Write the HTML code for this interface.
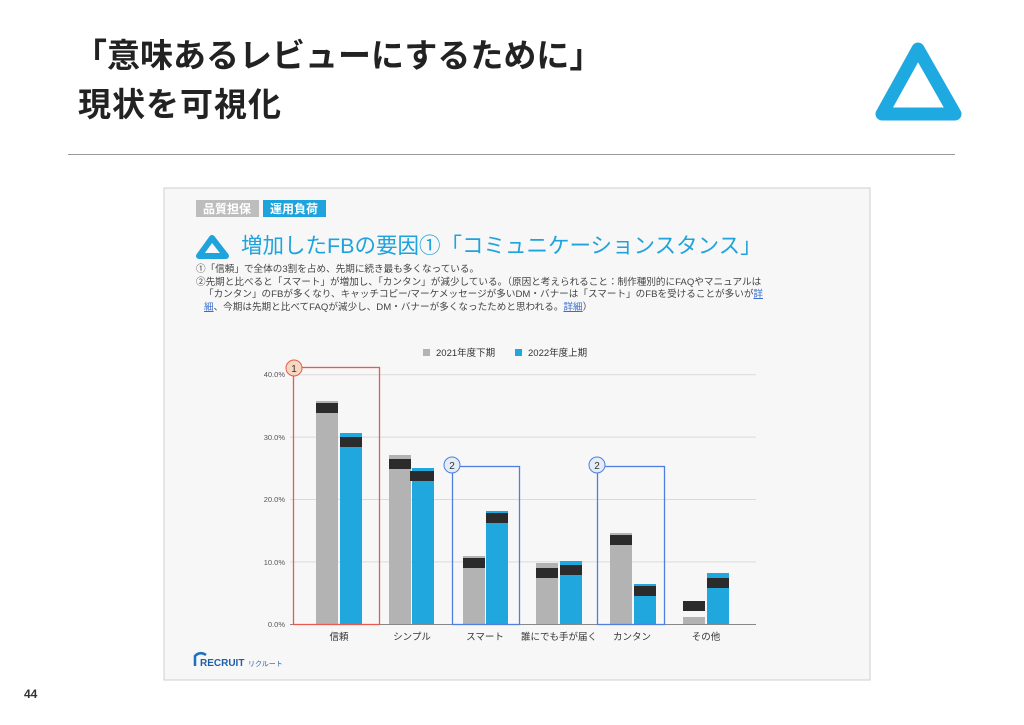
<!DOCTYPE html>
<html><head><meta charset="utf-8"><style>
html,body{margin:0;padding:0;background:#fff;}
body{width:1024px;height:725px;position:relative;overflow:hidden;font-family:"Liberation Sans","Noto Sans CJK JP",sans-serif;}
.t{position:absolute;white-space:nowrap;}
</style></head><body>
<div class="t" style="left:74px;top:36px;font-size:33px;font-weight:bold;color:#222;letter-spacing:0px;line-height:40px;">「意味あるレビューにするために」</div>
<div class="t" style="left:78px;top:85px;font-size:33px;font-weight:bold;color:#222;letter-spacing:1px;line-height:40px;">現状を可視化</div>
<div style="position:absolute;left:68px;top:154px;width:887px;height:1px;background:#999;"></div>
<svg style="position:absolute;left:0;top:0" width="1024" height="725">
<path d="M918 49 L882 114 L955 114 Z" fill="none" stroke="#1fa9e1" stroke-width="13" stroke-linejoin="round"/>
<rect x="164" y="188" width="706" height="492" fill="#f7f7f7" stroke="#cfcfcf"/>
<path d="M212 238 L199 256 L226 256 Z" fill="none" stroke="#1fa3dc" stroke-width="6" stroke-linejoin="round"/>
<rect x="196" y="200" width="63" height="17" fill="#bdbdbd"/>
<rect x="263" y="200" width="63" height="17" fill="#1fa3dc"/>
<text x="227" y="213" font-size="12" fill="#fff" text-anchor="middle" font-weight="bold">品質担保</text>
<text x="294" y="213" font-size="12" fill="#fff" text-anchor="middle" font-weight="bold">運用負荷</text>
<g stroke="#dadada" stroke-width="1">
<line x1="290" y1="374.7" x2="756" y2="374.7"/><line x1="290" y1="437.1" x2="756" y2="437.1"/>
<line x1="290" y1="499.5" x2="756" y2="499.5"/><line x1="290" y1="561.9" x2="756" y2="561.9"/>
</g>
<g font-size="7.5" fill="#555" text-anchor="end">
<text x="285" y="377">40.0%</text><text x="285" y="440">30.0%</text><text x="285" y="502">20.0%</text><text x="285" y="565">10.0%</text><text x="285" y="627">0.0%</text>
</g>
<g fill="#b3b3b3">
<rect x="316" y="401" width="22" height="223"/><rect x="389" y="455" width="22" height="169"/>
<rect x="463" y="556" width="22" height="68"/><rect x="536" y="563" width="22" height="61"/>
<rect x="610" y="533" width="22" height="91"/><rect x="683" y="617" width="22" height="7"/>
</g>
<g fill="#1fa7de">
<rect x="340" y="433" width="22" height="191"/><rect x="412" y="468" width="22" height="156"/>
<rect x="486" y="511" width="22" height="113"/><rect x="560" y="561" width="22" height="63"/>
<rect x="634" y="584" width="22" height="40"/><rect x="707" y="573" width="22" height="51"/>
</g>
<g fill="#2b2b2b">
<rect x="316" y="403" width="22" height="10"/><rect x="340" y="437" width="22" height="10"/>
<rect x="389" y="459" width="22" height="10"/><rect x="410" y="471" width="24" height="10"/>
<rect x="463" y="558" width="22" height="10"/><rect x="486" y="513" width="22" height="10"/>
<rect x="536" y="568" width="22" height="10"/><rect x="560" y="565" width="22" height="10"/>
<rect x="610" y="535" width="22" height="10"/><rect x="634" y="586" width="22" height="10"/>
<rect x="683" y="601" width="22" height="10"/><rect x="707" y="578" width="22" height="10"/>
</g>
<line x1="290" y1="624.5" x2="756" y2="624.5" stroke="#888" stroke-width="1"/>
<rect x="293.5" y="367.5" width="86" height="257" fill="none" stroke="#e85a50" stroke-width="1.3"/>
<rect x="452.5" y="466.5" width="67" height="158" fill="none" stroke="#4f7fdc" stroke-width="1.3"/>
<rect x="597.5" y="466.5" width="67" height="158" fill="none" stroke="#4f7fdc" stroke-width="1.3"/>
<circle cx="294" cy="368" r="8" fill="#f6d8c0" stroke="#e85a50"/><text x="294" y="372" font-size="10" text-anchor="middle" fill="#333">1</text>
<circle cx="452" cy="465" r="8" fill="#e4ecf8" stroke="#4f7fdc"/><text x="452" y="469" font-size="10" text-anchor="middle" fill="#333">2</text>
<circle cx="597" cy="465" r="8" fill="#e4ecf8" stroke="#4f7fdc"/><text x="597" y="469" font-size="10" text-anchor="middle" fill="#333">2</text>
<rect x="423" y="349" width="7" height="7" fill="#b3b3b3"/><text x="436" y="356" font-size="9.5" fill="#333">2021年度下期</text>
<rect x="515" y="349" width="7" height="7" fill="#1fa7de"/><text x="528" y="356" font-size="9.5" fill="#333">2022年度上期</text>
<g font-size="9.5" fill="#333" text-anchor="middle">
<text x="339" y="640">信頼</text><text x="412" y="640">シンプル</text><text x="485" y="640">スマート</text>
<text x="559" y="640">誰にでも手が届く</text><text x="632" y="640">カンタン</text><text x="706" y="640">その他</text>
</g>
<path d="M195 666 L195 656 Q200 651 206 655" fill="none" stroke="#1f6fc0" stroke-width="2.5"/>
<text x="200" y="666" font-size="10" font-weight="bold" fill="#1f5fa8">RECRUIT</text>
<text x="248" y="666" font-size="7" fill="#1f5fa8">リクルート</text>
<text x="24" y="698" font-size="12" font-weight="bold" fill="#333">44</text>
</svg>
<div class="t" style="left:241px;top:231px;font-size:21.5px;color:#1fa3dc;line-height:30px;">増加したFBの要因①「コミュニケーションスタンス」</div>
<div class="t" style="left:196px;top:264px;font-size:9.6px;color:#444;line-height:12.5px;">①「信頼」で全体の3割を占め、先期に続き最も多くなっている。<br>②先期と比べると「スマート」が増加し、「カンタン」が減少している。（原因と考えられること：制作種別的にFAQやマニュアルは<br>&nbsp;&nbsp;&nbsp;「カンタン」のFBが多くなり、キャッチコピー/マーケメッセージが多いDM・バナーは「スマート」のFBを受けることが多いが<u style="color:#3a6fd0">詳</u><br>&nbsp;&nbsp;&nbsp;<u style="color:#3a6fd0">細</u>、今期は先期と比べてFAQが減少し、DM・バナーが多くなったためと思われる。<u style="color:#3a6fd0">詳細</u>）</div>
</body></html>
